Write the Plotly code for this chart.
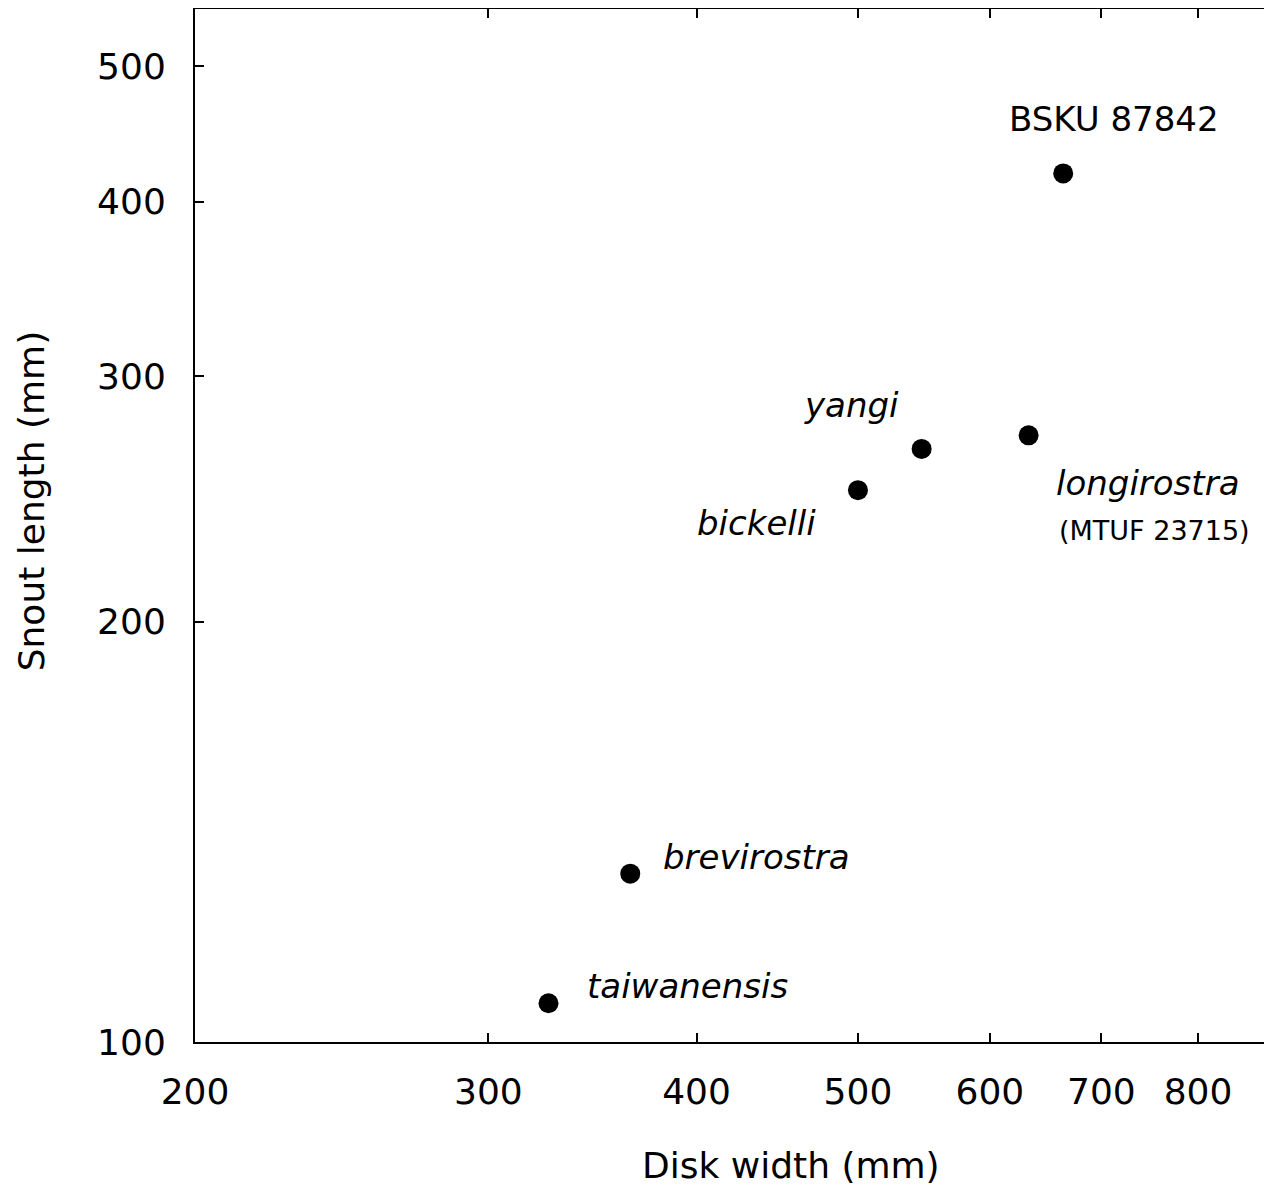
import math
import plotly.graph_objects as go

# Data
names = ["BSKU 87842", "yangi", "longirostra", "bickelli", "brevirostra", "taiwanensis"]
disk_width = [664, 546, 633, 500, 365, 326]
snout_length = [419, 266, 272, 248.5, 132, 106.6]
italic = [False, True, True, True, True, True]
x_ticks = [200, 300, 400, 500, 600, 700, 800]
y_ticks = [100, 200, 300, 400, 500]

# label offsets (pixels) relative to each point
label_dx = [51, -70, 119, -101, 126, 139]
label_dy = [54, 44, -48, -33, 17, 17]

FONT = "DejaVu Sans"

fig = go.Figure()
fig.add_trace(go.Scatter(
    x=disk_width, y=snout_length, mode="markers",
    marker=dict(color="black", size=20, line=dict(width=0)),
    showlegend=False, hoverinfo="skip"))

annotations = []
for n, xv, yv, it, dx, dy in zip(names, disk_width, snout_length, italic, label_dx, label_dy):
    txt = f"<i>{n}</i>" if it else n
    annotations.append(dict(x=math.log10(xv), y=math.log10(yv), xref="x", yref="y", text=txt,
                            showarrow=False, xshift=dx, yshift=dy, xanchor="center", yanchor="middle",
                            font=dict(family=FONT, size=34, color="black")))
# specimen number under longirostra
annotations.append(dict(x=math.log10(disk_width[2]), y=math.log10(snout_length[2]), xref="x", yref="y",
                        text="(MTUF 23715)", showarrow=False, xshift=126, yshift=-95,
                        xanchor="center", yanchor="middle",
                        font=dict(family=FONT, size=27, color="black")))
# axis titles
annotations.append(dict(x=0.5534, y=-0.12, xref="paper", yref="paper", text="Disk width (mm)",
                        showarrow=False, xanchor="center", yanchor="middle",
                        font=dict(family=FONT, size=36, color="black")))
annotations.append(dict(x=-0.152, y=0.5237, xref="paper", yref="paper", text="Snout length (mm)",
                        showarrow=False, xanchor="center", yanchor="middle", textangle=-90,
                        font=dict(family=FONT, size=36, color="black")))

fig.update_layout(
    width=1264, height=1183,
    margin=dict(l=187, r=0, t=1, b=149),
    plot_bgcolor="white", paper_bgcolor="white",
    font=dict(family=FONT, size=36, color="black"),
    annotations=annotations,
    xaxis=dict(type="log", range=[2.30103, 2.9475], tickvals=x_ticks,
               ticktext=[str(v) for v in x_ticks],
               showgrid=False, zeroline=False, showline=True, linecolor="black", linewidth=2,
               mirror="ticks", ticks="inside", ticklen=9, tickwidth=2, tickcolor="black",
               ticklabelstandoff=17, tickfont=dict(family=FONT, size=36, color="black")),
    yaxis=dict(type="log", range=[2.0, 2.740], tickvals=y_ticks,
               ticktext=[str(v) for v in y_ticks],
               showgrid=False, zeroline=False, showline=True, linecolor="black", linewidth=2,
               mirror=False, ticks="inside", ticklen=9, tickwidth=2, tickcolor="black",
               ticklabelstandoff=20, tickfont=dict(family=FONT, size=36, color="black")),
)

fig.write_html("out.html")
